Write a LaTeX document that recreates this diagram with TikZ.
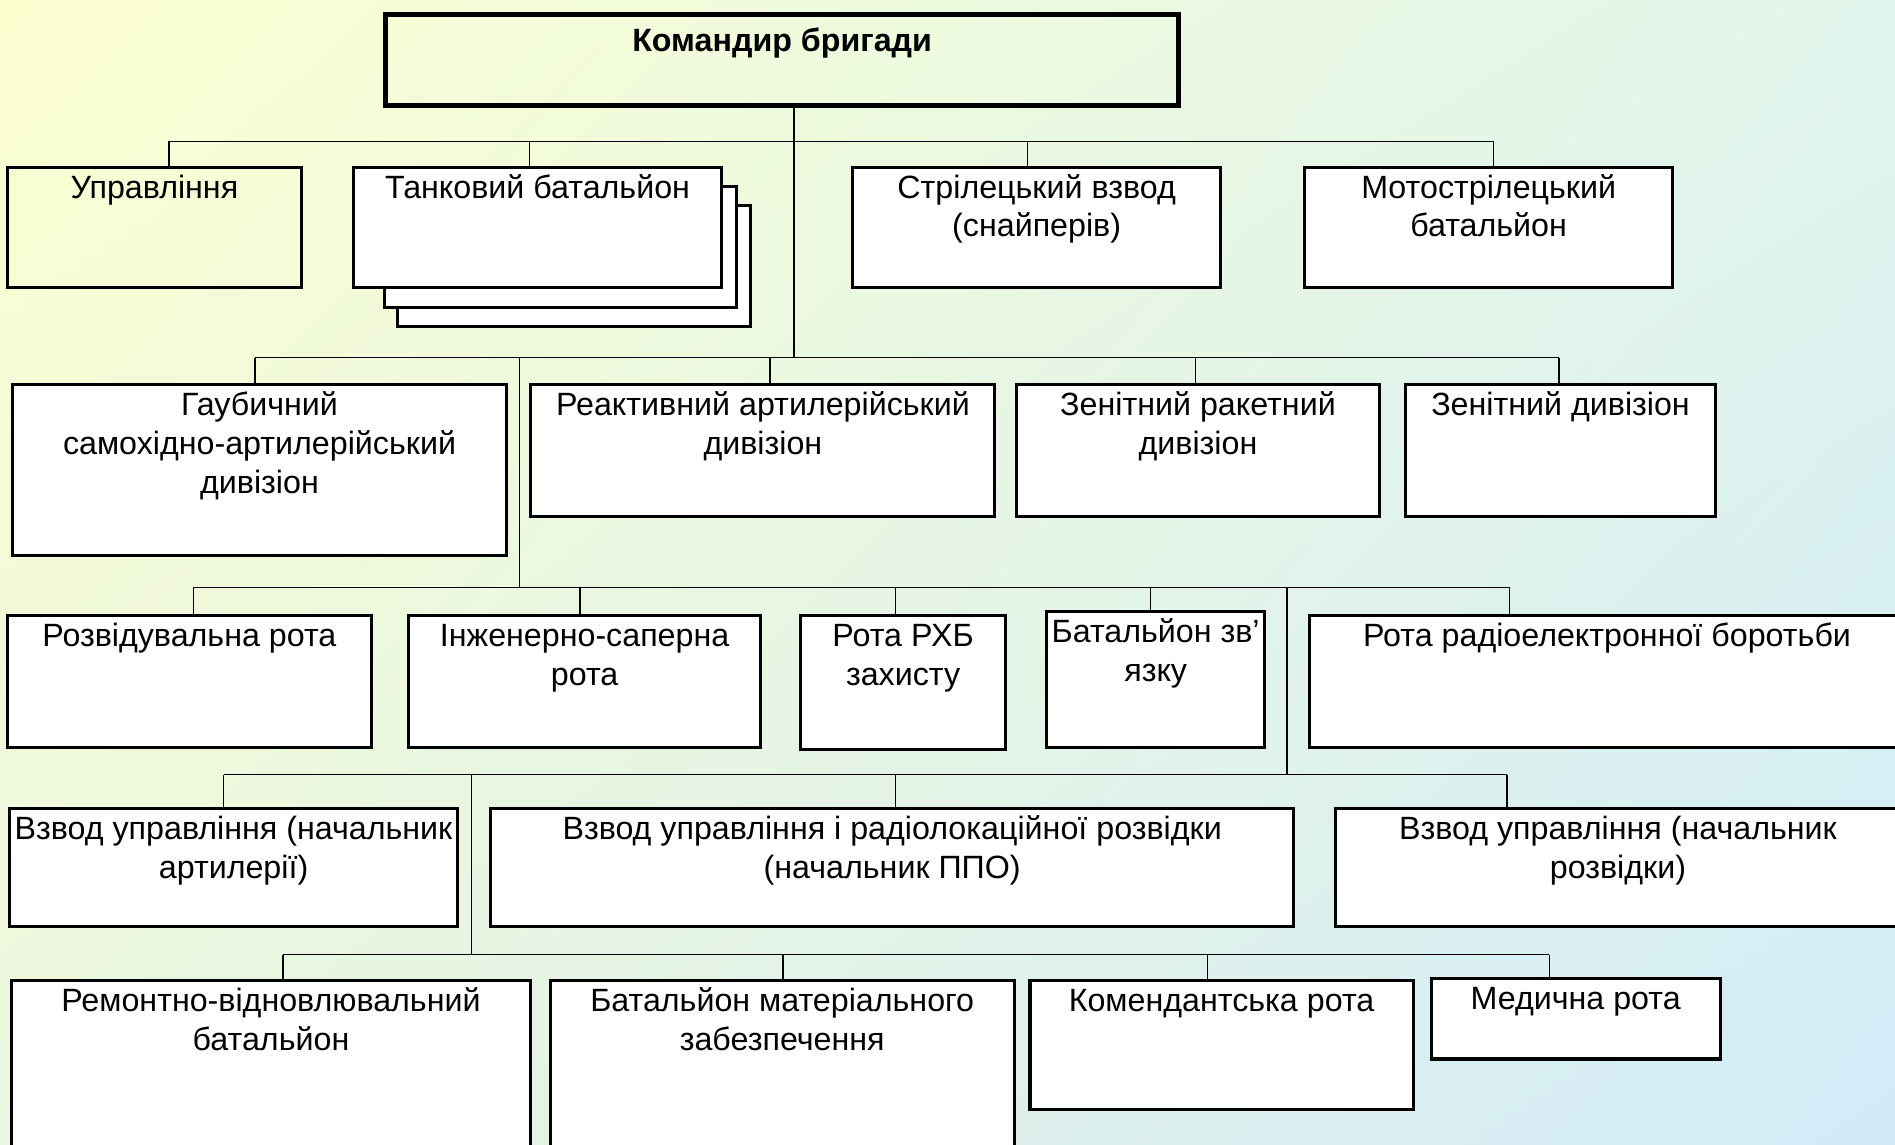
\documentclass[tikz,border=0pt]{standalone}
\usepackage{fontspec}
\setmainfont{Liberation Sans}
\usetikzlibrary{calc,shadings}
\definecolor{bgUL}{HTML}{FCFFD0}
\definecolor{bgUR}{HTML}{E0F5EC}
\definecolor{bgLL}{HTML}{EAF6DF}
\definecolor{bgLR}{HTML}{D2EBF8}
\tikzset{
  orgbox/.style={draw=black, line width=1.5pt, fill=white, anchor=north west, inner sep=0pt},
  clearbox/.style={orgbox, fill=none},
  chiefbox/.style={orgbox, fill=none, line width=2.6pt},
  boxtxt/.style={anchor=north, align=center, inner sep=0pt, font=\fontsize{16}{19.2}\selectfont},
  conn/.style={draw=black, line width=0.7pt},
}
% name, x1, y1, x2, y2, style, text
\newcommand\orgunit[7]{%
  \node[#6, minimum width={(#4-#2)*0.6pt}, minimum height={(#5-#3)*0.6pt}] (#1) at (#2,#3) {};
  \node[boxtxt] (#1-t) at ([yshift=-2pt]#1.north) {\rule{0pt}{14pt}#7};
}
\begin{document}
\begin{tikzpicture}[x=0.6pt, y=-0.6pt]
\useasboundingbox (0,0) rectangle (1568,947);
\shade[upper left=bgUL, upper right=bgUR, lower left=bgLL, lower right=bgLR] (0,0) rectangle (1568,947);
\clip (0,0) rectangle (1568,947);

% ---- chief
\node[chiefbox, minimum width={656*0.6pt}, minimum height={75*0.6pt}] (cmd) at (317,10) {};
\node[boxtxt, font=\fontsize{16}{19.2}\selectfont\bfseries] (cmd-t) at ([yshift=-5.5pt]cmd.north) {\rule{0pt}{14pt}Командир бригади};

% ---- row 1
\orgunit{upr}{5}{137}{248}{237}{clearbox}{Управління}
\node[orgbox, minimum width={292*0.6pt}, minimum height={100*0.6pt}] (tank3) at (328,169) {};
\node[orgbox, minimum width={291*0.6pt}, minimum height={100*0.6pt}] (tank2) at (317,153) {};
\orgunit{tank}{291}{137}{596}{237}{orgbox}{Танковий батальйон}
\orgunit{snip}{704}{137}{1009}{237}{orgbox}{Стрілецький взвод\\(снайперів)}
\orgunit{moto}{1078}{137}{1383}{237}{orgbox}{Мотострілецький\\батальйон}

% ---- row 2
\orgunit{gaub}{9}{317}{418}{458}{orgbox}{Гаубичний\\самохідно-артилерійський\\дивізіон}
\orgunit{react}{438}{317}{822}{426}{orgbox}{Реактивний артилерійський\\дивізіон}
\orgunit{zrd}{840}{317}{1140}{426}{orgbox}{Зенітний ракетний\\дивізіон}
\orgunit{zd}{1162}{317}{1418}{426}{orgbox}{Зенітний дивізіон}

% ---- row 3
\orgunit{rozv}{5}{508}{306}{617}{orgbox}{Розвідувальна рота}
\orgunit{inzh}{337}{508}{628}{617}{orgbox}{Інженерно-саперна\\рота}
\orgunit{rhb}{661}{508}{831}{619}{orgbox}{Рота РХБ\\захисту}
\orgunit{zvz}{865}{505}{1045}{617}{orgbox}{Батальйон зв’\\язку}
\orgunit{reb}{1082}{508}{1575}{617}{orgbox}{Рота радіоелектронної боротьби}

% ---- row 4
\orgunit{vart}{7}{668}{377}{765}{orgbox}{Взвод управління (начальник\\артилерії)}
\orgunit{vppo}{405}{668}{1069}{765}{orgbox}{Взвод управління і радіолокаційної розвідки\\(начальник ППО)}
\orgunit{vrozv}{1104}{668}{1571}{765}{orgbox}{Взвод управління (начальник\\розвідки)}

% ---- row 5
\orgunit{remb}{8}{810}{438}{960}{orgbox}{Ремонтно-відновлювальний\\батальйон}
\orgunit{bmz}{454}{810}{838}{960}{orgbox}{Батальйон матеріального\\забезпечення}
\orgunit{kom}{851}{810}{1168}{917}{orgbox}{Комендантська рота}
\orgunit{med}{1183}{808}{1422}{875}{orgbox}{Медична рота}

% ---- connectors
% trunk from chief
\coordinate (k1) at (657,296);
\draw[conn] (k1 |- cmd.south) -- (k1);
% row 1 bus
\coordinate (c-upr) at (140,117);
\coordinate (c-tank) at (438,117);
\coordinate (c-snip) at (850,117);
\coordinate (c-moto) at (1236,117);
\draw[conn] (c-upr) -- (c-moto);
\draw[conn] (c-upr) -- (c-upr |- upr.north);
\draw[conn] (c-tank) -- (c-tank |- tank.north);
\draw[conn] (c-snip) -- (c-snip |- snip.north);
\draw[conn] (c-moto) -- (c-moto |- moto.north);
% row 2 bus
\coordinate (c-gaub) at (211,296);
\coordinate (c-react) at (637,296);
\coordinate (c-zrd) at (989,296);
\coordinate (c-zd) at (1290,296);
\draw[conn] (c-gaub) -- (c-zd);
\draw[conn] (c-gaub) -- (c-gaub |- gaub.north);
\draw[conn] (c-react) -- (c-react |- react.north);
\draw[conn] (c-zrd) -- (c-zrd |- zrd.north);
\draw[conn] (c-zd) -- (c-zd |- zd.north);
% trunk 2
\coordinate (k2a) at (430,296);
\coordinate (k2b) at (430,486);
\draw[conn] (k2a) -- (k2b);
% row 3 bus
\coordinate (c-rozv) at (160,486);
\coordinate (c-inzh) at (480,486);
\coordinate (c-rhb) at (741,486);
\coordinate (c-zvz) at (952,486);
\coordinate (c-reb) at (1249,486);
\draw[conn] (c-rozv) -- (c-reb);
\draw[conn] (c-rozv) -- (c-rozv |- rozv.north);
\draw[conn] (c-inzh) -- (c-inzh |- inzh.north);
\draw[conn] (c-rhb) -- (c-rhb |- rhb.north);
\draw[conn] (c-zvz) -- (c-zvz |- zvz.north);
\draw[conn] (c-reb) -- (c-reb |- reb.north);
% trunk 3
\coordinate (k3a) at (1065,486);
\coordinate (k3b) at (1065,641);
\draw[conn] (k3a) -- (k3b);
% row 4 bus
\coordinate (c-vart) at (185,641);
\coordinate (c-vppo) at (741,641);
\coordinate (c-vrozv) at (1247,641);
\draw[conn] (c-vart) -- (c-vrozv);
\draw[conn] (c-vart) -- (c-vart |- vart.north);
\draw[conn] (c-vppo) -- (c-vppo |- vppo.north);
\draw[conn] (c-vrozv) -- (c-vrozv |- vrozv.north);
% trunk 4
\coordinate (k4a) at (390,641);
\coordinate (k4b) at (390,790);
\draw[conn] (k4a) -- (k4b);
% row 5 bus
\coordinate (c-remb) at (234,790);
\coordinate (c-bmz) at (648,790);
\coordinate (c-kom) at (999,790);
\coordinate (c-med) at (1282,790);
\draw[conn] (c-remb) -- (c-med);
\draw[conn] (c-remb) -- (c-remb |- remb.north);
\draw[conn] (c-bmz) -- (c-bmz |- bmz.north);
\draw[conn] (c-kom) -- (c-kom |- kom.north);
\draw[conn] (c-med) -- (c-med |- med.north);
\end{tikzpicture}
\end{document}
